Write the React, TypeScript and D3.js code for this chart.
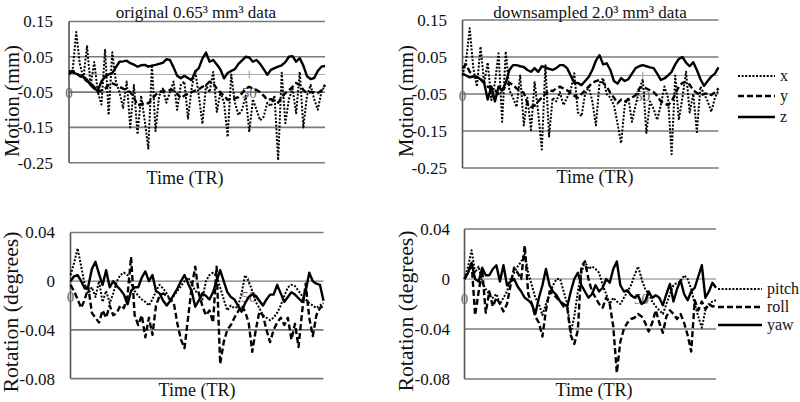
import React from "react";
import * as d3 from "d3";

// ---------- data ----------
const motionTicks = [0.15, 0.05, -0.05, -0.15, -0.25];
const rotationTicks = [0.04, 0, -0.04, -0.08];
const xTickLabels = ["0", "50"];
const xTickValues = [0, 50];

const titles = ["original 0.65\u00b3 mm\u00b3 data", "downsampled 2.0\u00b3 mm\u00b3 data"];
const motionNames = ["x", "y", "z"];
const rotationNames = ["pitch", "roll", "yaw"];

// original – motion (mm)
const origX = [0.0, 0.01, 0.12, 0.03, -0.01, 0.08, -0.03, 0.035, -0.05, -0.085, 0.07, -0.115, 0.063, -0.02, -0.05, -0.095, -0.02, -0.15, -0.03, -0.17, -0.06, -0.13, -0.21, 0.027, -0.16, -0.06, -0.04, -0.08, -0.05, -0.02, -0.1, -0.03, -0.02, -0.125, -0.04, 0.012, -0.06, -0.14, -0.03, -0.05, 0.007, -0.106, -0.05, -0.08, -0.177, 0.0, -0.08, -0.115, -0.1, -0.06, -0.163, -0.07, -0.1, -0.13, -0.12, -0.08, -0.09, -0.06, -0.243, 0.005, -0.138, -0.07, -0.04, -0.11, 0.007, -0.15, -0.06, -0.03, -0.07, -0.1, -0.05, -0.03];
const origY = [0.008, 0.01, 0.005, -0.005, -0.01, -0.02, -0.025, -0.035, -0.05, -0.045, -0.04, -0.03, -0.025, -0.03, -0.035, -0.04, -0.045, -0.05, -0.065, -0.087, -0.085, -0.08, -0.082, -0.07, -0.058, -0.05, -0.048, -0.045, -0.044, -0.045, -0.055, -0.067, -0.06, -0.055, -0.05, -0.046, -0.042, -0.035, -0.03, -0.02, -0.025, -0.04, -0.052, -0.06, -0.072, -0.07, -0.068, -0.064, -0.053, -0.04, -0.035, -0.04, -0.044, -0.05, -0.06, -0.072, -0.07, -0.075, -0.08, -0.065, -0.053, -0.045, -0.035, -0.024, -0.03, -0.044, -0.053, -0.05, -0.05, -0.053, -0.045, -0.03];
const origZ = [0.005, 0.006, 0.002, -0.003, -0.006, -0.015, -0.03, -0.04, -0.045, -0.02, -0.006, 0.0, 0.004, 0.02, 0.036, 0.037, 0.039, 0.032, 0.028, 0.022, 0.026, 0.027, 0.022, 0.025, 0.027, 0.03, 0.033, 0.043, 0.041, 0.02, -0.004, -0.011, -0.004, -0.01, -0.016, 0.008, 0.018, 0.045, 0.062, 0.036, 0.041, 0.028, 0.014, -0.011, 0.004, 0.01, 0.015, 0.03, 0.04, 0.05, 0.048, 0.036, 0.041, 0.03, 0.015, -0.001, 0.013, 0.018, 0.022, 0.026, 0.035, 0.05, 0.052, 0.036, 0.046, 0.025, -0.005, -0.013, -0.01, 0.01, 0.022, 0.024];

// downsampled – motion (mm)
const downX = [0.0, 0.04, 0.128, 0.02, -0.03, 0.078, -0.02, 0.035, -0.066, -0.02, 0.06, -0.125, 0.065, -0.04, -0.06, -0.085, 0.0, -0.135, -0.06, -0.147, -0.018, -0.1, -0.2, 0.03, -0.165, -0.06, -0.07, -0.045, -0.08, -0.06, -0.04, 0.006, -0.1, -0.11, -0.05, -0.03, -0.07, -0.135, -0.02, -0.007, -0.05, -0.06, -0.08, -0.13, -0.183, -0.08, -0.06, -0.125, -0.08, -0.04, -0.01, -0.155, -0.07, -0.09, -0.12, -0.08, -0.03, -0.06, -0.213, 0.0, -0.12, -0.06, 0.01, -0.1, -0.05, -0.153, -0.03, -0.05, -0.07, -0.098, -0.06, -0.04];
const downY = [0.02, 0.03, 0.01, 0.0, -0.005, -0.01, -0.02, -0.03, -0.035, -0.04, -0.05, -0.04, -0.03, -0.02, -0.025, -0.035, -0.04, -0.047, -0.075, -0.085, -0.082, -0.07, -0.06, -0.05, -0.04, -0.042, -0.035, -0.03, -0.035, -0.04, -0.047, -0.055, -0.06, -0.05, -0.04, -0.03, -0.02, -0.015, -0.012, -0.02, -0.03, -0.047, -0.06, -0.075, -0.065, -0.07, -0.065, -0.06, -0.053, -0.035, -0.03, -0.035, -0.04, -0.045, -0.055, -0.07, -0.075, -0.08, -0.07, -0.05, -0.03, -0.02, -0.018, -0.025, -0.04, -0.047, -0.053, -0.05, -0.048, -0.053, -0.045, -0.035];
const downZ = [0.005, 0.0, -0.005, -0.003, -0.004, -0.01, -0.02, -0.065, -0.03, -0.07, -0.03, -0.04, -0.02, 0.015, 0.028, 0.028, 0.025, 0.023, 0.015, 0.01, 0.02, 0.01, 0.025, 0.022, 0.018, 0.015, 0.02, 0.028, 0.028, 0.02, 0.0, -0.02, -0.02, -0.026, -0.015, -0.004, 0.015, 0.04, 0.055, 0.03, 0.033, 0.015, -0.015, -0.022, -0.007, -0.015, -0.01, 0.005, 0.02, 0.025, 0.028, 0.025, 0.022, 0.02, 0.005, -0.012, -0.008, 0.0, 0.01, 0.03, 0.045, 0.05, 0.035, 0.025, 0.036, 0.015, -0.01, -0.028, -0.015, -0.003, 0.005, 0.022];

// original – rotation (degrees)
const origPitch = [0.005, 0.015, 0.027, 0.012, -0.003, -0.01, -0.005, -0.013, 0.0, -0.017, -0.008, -0.018, -0.01, 0.0, 0.005, 0.007, 0.005, -0.002, -0.008, -0.012, -0.015, -0.017, -0.02, -0.015, -0.008, -0.003, -0.006, -0.01, -0.016, -0.012, -0.008, -0.004, 0.0, 0.003, -0.002, -0.008, -0.01, -0.015, 0.0, 0.005, 0.007, 0.004, -0.005, -0.015, -0.024, -0.02, -0.022, -0.021, -0.01, 0.005, 0.0, -0.008, -0.017, -0.022, -0.028, -0.03, -0.032, -0.03, -0.026, -0.02, -0.012, -0.005, -0.003, -0.004, -0.008, -0.012, -0.015, -0.018, -0.02, -0.022, -0.02, -0.018];
const origRoll = [-0.003, -0.008, -0.015, -0.022, -0.015, -0.005, -0.026, -0.03, -0.034, -0.024, -0.03, -0.02, -0.028, -0.026, -0.02, -0.022, -0.012, 0.02, -0.028, -0.036, -0.028, -0.046, -0.03, -0.044, -0.02, -0.012, -0.01, -0.012, -0.015, -0.018, -0.035, -0.048, -0.055, -0.03, -0.005, 0.012, -0.01, -0.02, -0.028, -0.024, -0.034, 0.012, -0.068, -0.05, -0.04, -0.036, -0.03, -0.025, -0.02, -0.025, -0.034, -0.058, -0.04, -0.025, -0.028, -0.04, -0.05, -0.04, -0.034, -0.03, -0.036, -0.03, -0.048, -0.035, -0.054, -0.025, -0.002, -0.03, -0.045, -0.028, -0.022, -0.02];
const origYaw = [0.0, 0.004, 0.005, 0.0, -0.006, -0.004, 0.01, 0.016, 0.006, -0.003, 0.009, -0.005, 0.0, -0.004, -0.007, -0.011, -0.019, -0.008, -0.005, -0.005, 0.003, 0.008, 0.0, 0.005, -0.008, -0.01, -0.016, -0.02, -0.016, -0.011, -0.006, 0.0, 0.005, -0.002, -0.008, -0.021, -0.016, -0.01, -0.012, -0.015, -0.009, 0.0, 0.009, 0.0, -0.009, -0.013, -0.015, -0.02, -0.025, -0.018, -0.013, -0.011, -0.012, -0.016, -0.02, -0.015, -0.011, -0.011, -0.003, -0.01, -0.017, -0.013, -0.009, -0.011, -0.014, -0.017, -0.008, 0.007, 0.0, -0.002, -0.003, -0.016];

// downsampled – rotation (degrees)
const downPitch = [0.0, 0.01, 0.023, 0.005, 0.01, -0.003, -0.008, -0.012, -0.015, -0.012, -0.02, -0.015, -0.01, 0.0, 0.005, 0.01, 0.014, 0.02, 0.005, -0.005, -0.015, -0.02, -0.029, -0.02, -0.012, -0.005, 0.0, 0.0, -0.01, -0.02, -0.043, -0.03, -0.01, 0.005, 0.014, 0.008, 0.01, 0.008, 0.005, -0.005, -0.012, -0.02, -0.015, -0.018, -0.02, -0.015, -0.01, -0.005, 0.003, 0.01, 0.0, -0.008, -0.012, -0.018, -0.022, -0.025, -0.028, -0.02, -0.012, -0.005, -0.003, -0.002, 0.003, 0.0, -0.008, -0.02, -0.03, -0.039, -0.025, -0.02, -0.018, -0.017];
const downRoll = [0.0, 0.005, 0.013, -0.029, -0.01, 0.007, -0.027, -0.01, -0.022, -0.015, -0.02, -0.026, -0.02, -0.005, 0.009, 0.005, 0.0, 0.027, -0.012, -0.02, -0.03, -0.035, -0.046, -0.025, -0.01, -0.012, -0.015, -0.018, -0.022, -0.023, -0.045, -0.052, -0.041, 0.01, 0.014, 0.0, -0.01, -0.015, -0.02, -0.023, -0.015, -0.02, -0.038, -0.075, -0.05, -0.04, -0.035, -0.032, -0.031, -0.028, -0.03, -0.035, -0.042, -0.035, -0.025, -0.035, -0.043, -0.03, -0.025, -0.028, -0.032, -0.028, -0.035, -0.045, -0.058, -0.017, -0.025, -0.018, -0.024, -0.02, -0.022, -0.021];
const downYaw = [0.0, 0.005, 0.013, 0.0, -0.002, 0.009, 0.003, 0.003, 0.008, 0.011, -0.002, 0.011, -0.005, -0.002, 0.0, -0.006, -0.01, -0.015, -0.017, -0.02, -0.028, -0.015, -0.005, 0.008, -0.005, -0.01, -0.013, -0.018, -0.02, -0.022, -0.01, 0.0, 0.005, -0.005, -0.01, -0.015, -0.012, -0.005, -0.01, -0.007, 0.0, -0.003, 0.008, 0.014, -0.005, -0.01, -0.009, -0.013, -0.015, -0.013, -0.02, -0.018, -0.01, -0.015, -0.013, -0.015, -0.021, -0.012, -0.004, -0.018, -0.008, -0.001, -0.012, -0.017, -0.01, -0.007, 0.002, 0.011, -0.015, -0.01, -0.003, -0.007];

// ---------- styling ----------
const FONT = "'Liberation Serif', 'Times New Roman', serif";
const GRID = "#7a7a7a";
const lineStyles = [
  { dash: "2 1.6", width: 2 },
  { dash: "6 3", width: 2.4 },
  { dash: null as string | null, width: 2.4 },
];

type Cfg = {
  x0: number; x1: number; yTop: number; yBot: number;
  domain: [number, number]; ticks: number[]; fmt: (v: number) => string;
  tickRight: number; xLabelY: number;
  title?: string; titleX?: number;
  timeX: number; timeY: number;
  yLabel: string; yLabelX: number; yLabelY: number; yLabelLen: number;
  series: number[][];
  legend?: { names: string[]; lx0: number; lx1: number; tx: number; ys: number[] };
};

function Panel({ c }: { c: Cfg }) {
  const n = c.series[0].length;
  const x = d3.scaleLinear().domain([0, n - 1]).range([c.x0, c.x1]);
  const y = d3.scaleLinear().domain(c.domain).range([c.yBot, c.yTop]);
  const line = d3.line<number>().x((_, i) => x(i)).y((v) => y(v));
  const y0 = y(0);
  return (
    <g fontFamily={FONT}>
      {c.ticks.map((t) => (
        <line key={"g" + t} x1={c.x0} x2={c.x1} y1={y(t)} y2={y(t)} stroke={GRID} strokeWidth={t === 0 ? 1.2 : 1.6} />
      ))}
      {!c.ticks.includes(0) && (
        <line x1={c.x0} x2={c.x1} y1={y0} y2={y0} stroke="#a8a8a8" strokeWidth={1} />
      )}
      {xTickValues.map((t) => (
        <line key={"xt" + t} x1={x(t)} x2={x(t)} y1={y0 - 4} y2={y0 + 4} stroke="#9a9a9a" strokeWidth={1} />
      ))}
      <line x1={c.x0} x2={c.x0} y1={c.yTop} y2={c.yBot} stroke="#555" strokeWidth={1.6} />
      {c.ticks.map((t) => (
        <text key={"t" + t} x={c.tickRight} y={y(t)} dy="0.35em" textAnchor="end" fontSize={17} fill="#111">
          {c.fmt(t)}
        </text>
      ))}
      {xTickValues.map((t, i) => (
        <text key={"xl" + t} x={x(t)} y={c.xLabelY} dy="0.35em" textAnchor="middle" fontSize={15} fill="#666">
          {xTickLabels[i]}
        </text>
      ))}
      {c.series.map((s, i) => (
        <path key={"s" + i} d={line(s) || ""} fill="none" stroke="#000" strokeWidth={lineStyles[i].width}
          strokeDasharray={lineStyles[i].dash || undefined} strokeLinejoin="round" />
      ))}
      {c.title && (
        <text x={c.titleX} y={18} textAnchor="middle" fontSize={17} fill="#111">{c.title}</text>
      )}
      <text x={c.timeX} y={c.timeY} textAnchor="middle" fontSize={18} fill="#111">Time (TR)</text>
      <text transform={`translate(${c.yLabelX},${c.yLabelY}) rotate(-90)`} textAnchor="middle" dy="0.35em"
        fontSize={20} textLength={c.yLabelLen} lengthAdjust="spacingAndGlyphs" fill="#111">{c.yLabel}</text>
      {c.legend && c.legend.names.map((nm, i) => (
        <g key={"lg" + i}>
          <line x1={c.legend!.lx0} x2={c.legend!.lx1} y1={c.legend!.ys[i]} y2={c.legend!.ys[i]} stroke="#000"
            strokeWidth={lineStyles[i].width} strokeDasharray={lineStyles[i].dash || undefined} />
          <text x={c.legend!.tx} y={c.legend!.ys[i]} dy="0.3em" fontSize={16} fill="#111">{nm}</text>
        </g>
      ))}
    </g>
  );
}

const fmtMotion = (v: number) => (v === 0 ? "0" : d3.format(".2f")(v).replace("\u2212", "-"));
const fmtRot = (v: number) => (v === 0 ? "0" : d3.format(".2f")(v).replace("\u2212", "-"));

export default function App() {
  const panels: Cfg[] = [
    {
      x0: 69, x1: 325, yTop: 21.5, yBot: 162.7, domain: [-0.25, 0.15], ticks: motionTicks, fmt: fmtMotion,
      tickRight: 53, xLabelY: 93, title: titles[0], titleX: 196, timeX: 185, timeY: 184,
      yLabel: "Motion (mm)", yLabelX: 12, yLabelY: 101, yLabelLen: 112,
      series: [origX, origY, origZ],
    },
    {
      x0: 462.5, x1: 718.5, yTop: 20, yBot: 168, domain: [-0.25, 0.15], ticks: motionTicks, fmt: fmtMotion,
      tickRight: 447, xLabelY: 96, title: titles[1], titleX: 590, timeX: 595, timeY: 183,
      yLabel: "Motion (mm)", yLabelX: 406, yLabelY: 101, yLabelLen: 112,
      series: [downX, downY, downZ],
      legend: { names: motionNames, lx0: 738, lx1: 775, tx: 780, ys: [76, 96, 117] },
    },
    {
      x0: 70.5, x1: 323.5, yTop: 232.5, yBot: 378.6, domain: [-0.08, 0.04], ticks: rotationTicks, fmt: fmtRot,
      tickRight: 55, xLabelY: 297, timeX: 197, timeY: 396,
      yLabel: "Rotation (degrees)", yLabelX: 11, yLabelY: 312, yLabelLen: 161,
      series: [origPitch, origRoll, origYaw],
    },
    {
      x0: 464.5, x1: 716, yTop: 229, yBot: 379, domain: [-0.08, 0.04], ticks: rotationTicks, fmt: fmtRot,
      tickRight: 450, xLabelY: 299, timeX: 594, timeY: 396,
      yLabel: "Rotation (degrees)", yLabelX: 406, yLabelY: 311, yLabelLen: 161,
      series: [downPitch, downRoll, downYaw],
      legend: { names: rotationNames, lx0: 718, lx1: 762, tx: 767, ys: [289, 307, 325] },
    },
  ];
  return (
    <svg width={800} height={402} style={{ position: "absolute", left: 0, top: 0, background: "#fff" }}>
      <rect width={800} height={402} fill="#fff" />
      {panels.map((p, i) => <Panel key={i} c={p} />)}
    </svg>
  );
}
